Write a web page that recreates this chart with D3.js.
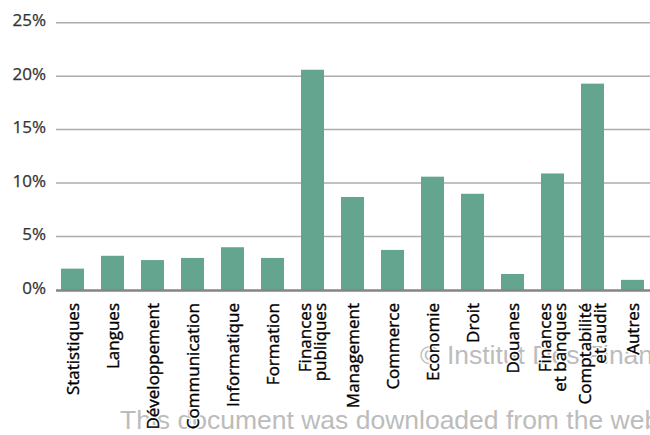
<!DOCTYPE html>
<html lang="fr">
<head>
<meta charset="utf-8">
<title>Répartition par domaine</title>
<script src="https://d3js.org/d3.v7.min.js"></script>
<style>
    body { margin: 0; background: #fff; }
    svg { display: block; }
    .tick-label { font-family: "Open Sans", sans-serif; font-size: 17px; fill: #333; stroke: #333; stroke-width: 0.25px; }
    .cat-label { font-family: "Open Sans", sans-serif; font-size: 17px; fill: #000; stroke: #000; stroke-width: 0.35px; }
    .cat-halo { font-family: "Open Sans", sans-serif; font-size: 17px; fill: #fff;
                stroke: #fff; stroke-width: 3px; stroke-linejoin: round; }
    .watermark { font-family: "Liberation Sans", Arial, sans-serif; font-size: 26.5px; fill: #bcbcbc; }
</style>
</head>
<body>
<svg id="chart" width="650" height="435"></svg>
<script>
    // Data
    const categories = [
        ["Statistiques"], ["Langues"], ["Développement"], ["Communication"],
        ["Informatique"], ["Formation"], ["Finances", "publiques"], ["Management"],
        ["Commerce"], ["Economie"], ["Droit"], ["Douanes"],
        ["Finances", "et banques"], ["Comptabilité", "et audit"], ["Autres"]
    ];
    const values = [2.0, 3.2, 2.8, 3.0, 4.0, 3.0, 20.6, 8.7, 3.75, 10.6, 9.0, 1.5, 10.9, 19.3, 0.95];
    const yTicks = [0, 5, 10, 15, 20, 25];

    const svg = d3.select("#chart");

    const x = d3.scaleBand()
        .domain(d3.range(categories.length))
        .range([52.5, 652.5])
        .paddingInner(0.425)
        .paddingOuter(0.2125);

    const y = d3.scaleLinear()
        .domain([0, 25])
        .range([290, 22.7]);

    // watermarks (behind everything, cut by the page edge as in the source)
    svg.append("text").attr("class", "watermark")
        .attr("x", 420).attr("y", 364)
        .text("© Institut Des Finan");
    svg.append("text").attr("class", "watermark")
        .attr("x", 120).attr("y", 429)
        .text("This document was downloaded from the web");

    // gridlines
    svg.append("g").selectAll("line")
        .data(yTicks.filter(d => d > 0))
        .join("line")
        .attr("x1", 56).attr("x2", 650)
        .attr("y1", d => y(d)).attr("y2", d => y(d))
        .attr("stroke", "#acacac")
        .attr("stroke-width", 1.5);

    // y tick labels
    svg.append("g").selectAll("text")
        .data(yTicks)
        .join("text")
        .attr("class", "tick-label")
        .attr("x", 46)
        .attr("y", d => y(d) + 3.5)
        .attr("text-anchor", "end")
        .text(d => d + "%");

    // bars
    svg.append("g").selectAll("rect")
        .data(values)
        .join("rect")
        .attr("x", (d, i) => x(i))
        .attr("y", d => y(d))
        .attr("width", x.bandwidth())
        .attr("height", d => y(0) - y(d))
        .attr("fill", "#64a590");

    // baseline
    svg.append("line")
        .attr("x1", 56).attr("x2", 650)
        .attr("y1", y(0) + 0.5).attr("y2", y(0) + 0.5)
        .attr("stroke", "#858585")
        .attr("stroke-width", 2.5);

    // category labels, rotated (white halo first, then the text)
    function drawLabels(cls) {
        const labels = svg.append("g").selectAll("text")
            .data(categories)
            .join("text")
            .attr("class", cls)
            .attr("text-anchor", "end")
            .attr("transform", (d, i) => `translate(${x(i) + x.bandwidth() / 2},303) rotate(-90)`);

        labels.each(function(lines) {
            const t = d3.select(this);
            const lh = 15;
            lines.forEach((line, k) => {
                t.append("tspan")
                    .attr("x", 0)
                    .attr("y", (k - (lines.length - 1) / 2) * lh)
                    .attr("dy", "0.36em")
                    .text(line);
            });
        });
    }
    drawLabels("cat-halo");
    drawLabels("cat-label");
</script>
</body>
</html>
